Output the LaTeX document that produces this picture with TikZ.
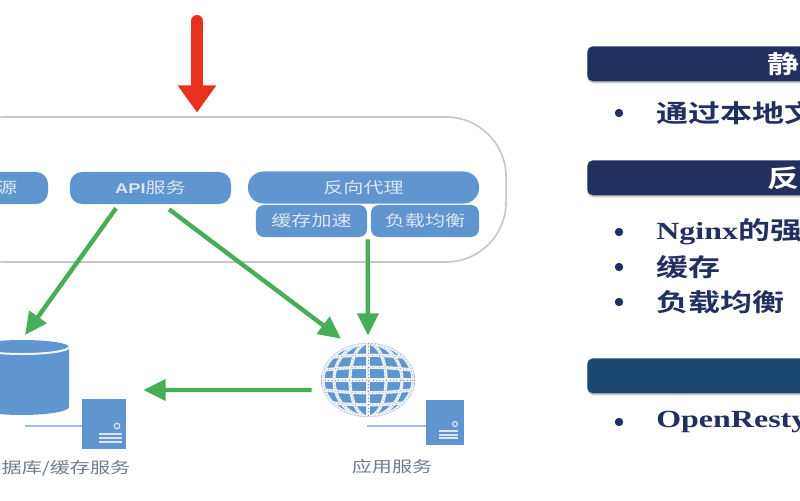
\documentclass[tikz,border=0pt]{standalone}
\usepackage{fontspec}
\usepackage{xcolor}
\usepackage{tikz}
\usetikzlibrary{calc}
\usetikzlibrary{arrows.meta}
\usetikzlibrary{shapes.geometric}
\usetikzlibrary{shadows}
\setmainfont{Liberation Serif}
\newfontfamily\cjk[FakeStretch=1.3,BoldFont={Noto Sans CJK SC Bold}]{Noto Sans CJK SC}
\newfontfamily\latinwide[FakeStretch=1.3]{Liberation Serif}
\newfontfamily\apifont[FakeStretch=1.3,BoldFont={Liberation Sans Bold}]{Liberation Sans}
\definecolor{boxblue}{HTML}{6096D0}
\definecolor{boxtext}{HTML}{DCE6F2}
\definecolor{arrowgreen}{HTML}{45AE57}
\definecolor{arrowred}{HTML}{E8301F}
\definecolor{navy}{HTML}{22305F}
\definecolor{teal}{HTML}{1B4770}
\definecolor{labelgray}{HTML}{6F7C8C}
\tikzset{>=latex}
\tikzset{svc/.style = {fill=boxblue, text=boxtext, inner sep=0, minimum height=0.8cm, font=\fontsize{11}{12}\selectfont\cjk}}
\tikzset{flow/.style = {-{Triangle[length=0.56cm, width=0.52cm]}, draw=arrowgreen, line width=0.11cm}}
\tikzset{header/.style = {fill=navy, text=white, rounded corners=0.14cm, inner sep=0, minimum height=0.875cm, text width=7.5cm, align=left, font=\fontsize{17.5}{20}\selectfont\cjk\bfseries, drop shadow={shadow xshift=0pt, shadow yshift=-0.05cm, opacity=0.4}}}
\tikzset{point/.style = {anchor=west, inner sep=0, text=navy, font=\fontsize{17.5}{20}\selectfont\cjk\bfseries}}
\tikzset{dot/.style = {circle, fill=navy, inner sep=0, minimum size=0.21cm}}
\tikzset{host/.style = {fill=boxblue, inner sep=0}}
\tikzset{caption/.style = {text=labelgray, inner sep=0, font=\fontsize{11}{12}\selectfont\cjk}}
\tikzset{gridwhite/.style = {draw=boxtext!50!white, line width=0.08cm}}
\tikzset{griddot/.style = {draw=black!45, line width=0.015cm, dotted}}

\begin{document}
\begin{tikzpicture}[x=0.025cm, y=-0.025cm]
\useasboundingbox (0,0) rectangle (800,500);
\clip (0,0) rectangle (800,500);
% gateway
\node [draw=black!22, line width=0.04cm, rounded corners=1.5cm, inner sep=0, minimum width=14cm, minimum height=3.625cm] (gateway) at (226,189.5) {};
\coordinate (entry) at (197,21);
\draw [-{Triangle[length=0.68cm, width=0.92cm]}, draw=arrowred, line width=0.3cm, line cap=round, shorten >=0.09cm] (entry) to (gateway.north -| entry);
\node [svc, rounded corners=0.3cm, minimum width=2.55cm] (res) at (-3,188) {\phantom{资}源};
\node [svc, rounded corners=0.3cm, minimum width=4.025cm] (api) at (150.5,188) {{\apifont\bfseries\fontsize{10}{12}\selectfont API}服务};
\node [svc, rounded corners=0.39cm, minimum width=5.775cm] (proxy) at (363.5,187.5) {反向代理};
\node [svc, rounded corners=0.2cm, minimum width=2.775cm] (cache) at (311.5,221) {缓存加速};
\node [svc, rounded corners=0.2cm, minimum width=2.7cm] (lb) at (425,221) {负载均衡};
% database
\fill [boxblue] (-25,347) arc [start angle=180, end angle=360, x radius=47, y radius=7] -- (69,407) arc [start angle=0, end angle=180, x radius=47, y radius=8] -- cycle;
\draw [boxtext!40!white, line width=0.05cm] (-25,347) arc [start angle=180, end angle=0, x radius=47, y radius=7];
\coordinate (db) at (22,340);
\node [host, minimum width=1.1cm, minimum height=1.25cm] (dbhost) at (104,424) {};
\draw [boxblue!60, line width=0.04cm] (dbhost.west |- 0,426) to ++(-57,0);
\node [circle, draw=boxtext, fill=boxblue, line width=0.03cm, inner sep=0, minimum size=0.14cm] (dbled) at (117,426) {};
\foreach \y in {434,438,442} \draw [boxtext, line width=0.06cm] (99,\y) to (122,\y);
\node [caption] (dblabel) at (66,468) {据库/缓存服务};
% app service
\node [ellipse, fill=boxblue, inner sep=0, minimum width=2.35cm, minimum height=1.85cm] (globe) at (368,380) {};
\begin{scope}
\clip (368,380) ellipse [x radius=47, y radius=37];
\foreach \pen in {gridwhite, griddot} {
  \draw [\pen] (368,343) to (368,417);
  \foreach \r in {18,34,45} \draw [\pen] (368,380) ellipse [x radius=\r, y radius=37];
  \draw [\pen] (318,380) to (418,380);
  \foreach \y/\b in {-21/-5, -9/-5, 9/5, 21/5}
    \draw [\pen] (318,380+\y) .. controls (350,380+\y+\b) and (386,380+\y+\b) .. (418,380+\y);
}
\end{scope}
\node [host, minimum width=0.95cm, minimum height=1.125cm] (apphost) at (445,422.5) {};
\draw [boxblue!60, line width=0.04cm] (apphost.west |- 0,426) to ++(-59,0);
\node [circle, draw=boxtext, fill=boxblue, line width=0.03cm, inner sep=0, minimum size=0.12cm] (appled) at (455,424) {};
\foreach \y in {431,434.5,438} \draw [boxtext, line width=0.05cm] (439,\y) to (458,\y);
\node [caption] (applabel) at (392,467) {应用服务};
% flows
\draw [flow] ([xshift=-0.8625cm, yshift=-0.1cm]api.south) to ([xshift=0.075cm, yshift=0.125cm]db);
\draw [flow] ([xshift=0.4625cm, yshift=-0.125cm]api.south) to ([xshift=-0.675cm, yshift=0.1cm]globe.north);
\draw [flow] ([xshift=-0.075cm, yshift=-0.05cm]lb.south west) to ([yshift=0.175cm]globe.north);
\draw [flow] ([xshift=-0.225cm, yshift=-0.25cm]globe.west) to ([xshift=0.425cm, yshift=0.85cm]dbhost.east);
% right panel
\node [header, anchor=north west] (static) at (587,46) {\hspace{4.5cm}静态};
\node [header, anchor=north west] (reverse) at (587,160) {\hspace{4.5cm}反向};
\node [header, anchor=north west, fill=teal] (openresty) at (587,358) {\strut};
\node [dot] (d1) at (619,113) {};
\node [point] (p1) at (656,113) {通过本地文};
\node [dot] (d2) at (619,232) {};
\node [point] (p2) at (656,232) {{\latinwide\bfseries Nginx}的强};
\node [dot] (d3) at (619,267) {};
\node [point] (p3) at (656,267) {缓存};
\node [dot] (d4) at (619,302) {};
\node [point] (p4) at (656,302) {负载均衡};
\node [dot] (d5) at (619,422) {};
\node [point] (p5) at (656,422) {{\latinwide\bfseries OpenResty}};
\end{tikzpicture}
\end{document}
